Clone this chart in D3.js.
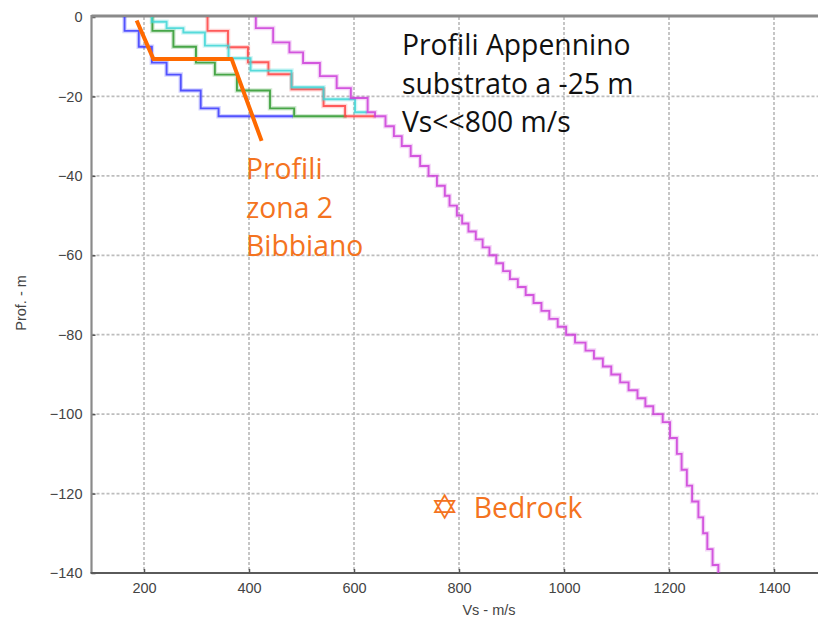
<!DOCTYPE html>
<html lang="it">
<head>
    <meta charset="UTF-8">
    <title>Profili Vs - Appennino</title>
    <script src="https://d3js.org/d3.v7.min.js"></script>
    <style>
        body { margin: 0; background: #fff; }
        svg { display: block; }
        .tick text { font-family: "Liberation Sans", Arial, sans-serif; font-size: 14.5px; fill: #444; }
        .note { font-family: "Open Sans", Lato, sans-serif; font-size: 28.3px; }
    </style>
</head>
<body>
<script>
    // ---- dati (Vs in m/s, profondita' in m) ----
    let xTicks = [200, 400, 600, 800, 1000, 1200, 1400];
    let yTicks = [0, -20, -40, -60, -80, -100, -120, -140];

    // profili zona 2: velocita' dello strato + base dello strato
    let blueVs  = [163, 190, 215, 243, 270, 308, 342];
    let blueZ   = [3.5, 7.5, 11.5, 14.5, 18.5, 23, 25];
    let blueEnd = 484;

    let greenVs  = [216, 256, 299, 335, 377, 440, 486];
    let greenZ   = [3.5, 7.5, 11.5, 14.5, 18.5, 23, 25];
    let greenEnd = 586;

    let cyanVs  = [215, 243, 275, 316, 361, 403, 481, 542, 602];
    let cyanZ   = [1.2, 2.8, 3.9, 7.2, 10.4, 13.5, 17.7, 20.7, 24];
    let cyanEnd = 625;

    let redVs  = [321, 360, 398, 437, 481, 542, 583];
    let redZ   = [3.5, 7.6, 11.4, 14.4, 18.2, 22.4, 25];
    let redEnd = 642;

    // profilo profondo (bedrock)
    let magentaVs = [413, 446, 477, 503, 535, 567, 594, 626, 640,
                     660, 676, 691, 708, 726, 742, 758, 773, 782, 796,
                     806, 818, 832, 845, 858, 871, 884, 897, 912, 927, 942, 957, 972, 988, 1004,
                     1021, 1041, 1057, 1074, 1090, 1107, 1123, 1140, 1155, 1170, 1188,
                     1202, 1215, 1224, 1234, 1244, 1256, 1265, 1273, 1283, 1294];
    let magentaZ  = [2.8, 6.4, 8.9, 11.6, 14.9, 17.9, 20.4, 24, 25,
                     27.5, 30, 32.5, 35, 37.5, 40, 42.5, 45, 47.5, 50,
                     52, 54, 56, 58, 60, 62, 64, 66, 68, 70, 72, 74, 76, 78, 80,
                     82, 84, 86, 88, 90, 92, 94, 96, 98, 100, 102,
                     106, 110, 114, 118, 122, 126, 130, 134, 138, 140];

    // profilo medio Bibbiano (spezzata arancione)
    let orangeVs = [186, 218, 367, 424];
    let orangeZ  = [0.9, 10.6, 10.6, 31.2];

    let bedrock = { vs: 773, z: 123.6 };

    // ---- svg ----
    let width = 818, height = 623;
    let svg = d3.select("body").append("svg")
                .attr("width", width)
                .attr("height", height);

    let x = d3.scaleLinear().domain([100, 1500]).range([91.5, 826.5]);
    let y = d3.scaleLinear().domain([0, -140]).range([17, 573]);

    svg.append("clipPath").attr("id", "plot")
       .append("rect")
       .attr("x", x(100)).attr("y", y(0))
       .attr("width", width - x(100)).attr("height", y(-140) - y(0));

    // griglia tratteggiata
    let grid = svg.append("g").attr("stroke", "#bdbdbd").attr("stroke-width", 1.7)
                  .attr("stroke-dasharray", "3,2");
    grid.selectAll(".gx").data(xTicks).enter().append("line")
        .attr("x1", d => x(d)).attr("x2", d => x(d))
        .attr("y1", y(0)).attr("y2", y(-140));
    grid.selectAll(".gy").data(yTicks.slice(1, -1)).enter().append("line")
        .attr("x1", x(100)).attr("x2", width)
        .attr("y1", d => y(d)).attr("y2", d => y(d));

    // assi
    let xAxis = svg.append("g")
        .attr("transform", `translate(0,${y(-140)})`)
        .call(d3.axisBottom(x).tickValues(xTicks).tickFormat(d3.format("d"))
                .tickSizeInner(-4).tickSizeOuter(0).tickPadding(10));
    let yAxis = svg.append("g")
        .attr("transform", `translate(${x(100)},0)`)
        .call(d3.axisLeft(y).tickValues(yTicks).tickFormat(d3.format("d"))
                .tickSizeInner(-4).tickSizeOuter(0).tickPadding(9));
    xAxis.select(".domain").remove();
    yAxis.select(".domain").remove();
    svg.selectAll(".tick line").attr("stroke", "#555").attr("stroke-width", 1.5);

    // cornice
    svg.append("line").attr("x1", x(100)).attr("x2", width).attr("y1", y(0) - 1).attr("y2", y(0) - 1)
       .attr("stroke", "#8a8a8a").attr("stroke-width", 3);
    svg.append("line").attr("x1", x(100)).attr("x2", x(100)).attr("y1", y(0) - 2).attr("y2", y(-140))
       .attr("stroke", "#8a8a8a").attr("stroke-width", 2.2);
    svg.append("line").attr("x1", x(100) - 1).attr("x2", width).attr("y1", y(-140)).attr("y2", y(-140))
       .attr("stroke", "#5a5a5a").attr("stroke-width", 2);

    // titoli assi
    svg.append("text")
       .attr("x", x(800) + 30).attr("y", 615)
       .attr("text-anchor", "middle")
       .attr("font-family", "Liberation Sans, Arial, sans-serif")
       .attr("font-size", 14.5).attr("fill", "#444")
       .text("Vs - m/s");
    svg.append("text")
       .attr("transform", `translate(26,${y(-72)}) rotate(-90)`)
       .attr("text-anchor", "middle")
       .attr("font-family", "Liberation Sans, Arial, sans-serif")
       .attr("font-size", 14.5).attr("fill", "#444")
       .text("Prof. - m");

    // profili a gradini
    function stepPoints(vs, z, vEnd) {
        let pts = [];
        let top = 0;
        vs.forEach((v, i) => {
            pts.push([v, top]);
            pts.push([v, z[i]]);
            top = z[i];
        });
        if (vEnd != null) pts.push([vEnd, top]);
        return pts;
    }
    let line = d3.line().x(d => x(d[0])).y(d => y(-d[1]));

    let profiles = [
        { vs: blueVs, z: blueZ, end: blueEnd, color: "#3b3bff" },
        { vs: greenVs, z: greenZ, end: greenEnd, color: "#2f9a2f" },
        { vs: redVs, z: redZ, end: redEnd, color: "#ff4444" },
        { vs: cyanVs, z: cyanZ, end: cyanEnd, color: "#3fd6d6" },
        { vs: magentaVs, z: magentaZ, end: null, color: "#cc3fd9" }
    ];

    let plot = svg.append("g").attr("clip-path", "url(#plot)");
    profiles.forEach(p => {
        let pts = stepPoints(p.vs, p.z, p.end);
        // alone sfumato
        plot.append("path").attr("d", line(pts))
            .attr("fill", "none").attr("stroke", p.color)
            .attr("stroke-width", 4.5).attr("stroke-opacity", 0.22);
        plot.append("path").attr("d", line(pts))
            .attr("fill", "none").attr("stroke", p.color)
            .attr("stroke-width", 1.9).attr("stroke-opacity", 0.85);
    });

    plot.append("path")
        .attr("d", line(orangeVs.map((v, i) => [v, orangeZ[i]])))
        .attr("fill", "none").attr("stroke", "#ff6a00")
        .attr("stroke-width", 4).attr("stroke-linejoin", "round");

    // annotazioni
    let note = svg.append("text").attr("class", "note").attr("fill", "#111");
    ["Profili Appennino", "substrato a -25 m", "Vs<<800 m/s"].forEach((t, i) => {
        note.append("tspan").attr("x", 402).attr("y", 55 + i * 38.5).text(t);
    });

    let bib = svg.append("text").attr("class", "note").attr("fill", "#f47320");
    ["Profili", "zona 2", "Bibbiano"].forEach((t, i) => {
        bib.append("tspan").attr("x", 246).attr("y", 179 + i * 38.5).text(t);
    });

    svg.append("text")
       .attr("x", x(bedrock.vs)).attr("y", y(-bedrock.z) + 11)
       .attr("text-anchor", "middle")
       .attr("font-family", "DejaVu Sans, sans-serif")
       .attr("font-size", 34).attr("font-weight", "bold").attr("fill", "#f47320")
       .text("\u2721");
    svg.append("text").attr("class", "note")
       .attr("x", x(bedrock.vs) + 29).attr("y", y(-bedrock.z) + 10)
       .attr("fill", "#f47320")
       .text("Bedrock");
</script>
</body>
</html>
